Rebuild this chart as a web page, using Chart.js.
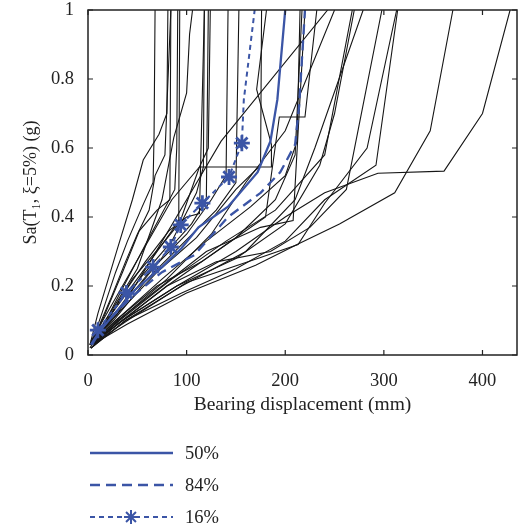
<!DOCTYPE html>
<html>
<head>
<meta charset="utf-8">
<script src="https://cdn.jsdelivr.net/npm/chart.js@4/dist/chart.umd.min.js"></script>
<style>
  html, body { margin: 0; padding: 0; background: #fff; overflow: hidden; }
  canvas { display: block; }
</style>
</head>
<body>
<canvas id="ida" width="519" height="531"></canvas>
<script>
// IDA curves, [bearing displacement (mm), Sa(T1) (g)]
const gmCurves = [
  [[2,0.03],[10,0.12],[30,0.31],[45,0.45],[56,0.565],[72,0.64],[80,0.70],[81,1]],
  [[3,0.03],[14,0.12],[28,0.24],[40,0.33],[55,0.43],[66,0.50],[67,0.64],[68,1]],
  [[3,0.03],[16,0.11],[35,0.24],[52,0.36],[70,0.42],[83,0.45],[84,1]],
  [[2,0.02],[18,0.10],[40,0.22],[60,0.33],[88,0.48],[90,0.60],[91,1]],
  [[3,0.03],[20,0.10],[45,0.22],[75,0.32],[92,0.38],[93,1]],
  [[2,0.03],[22,0.12],[50,0.25],[75,0.45],[87,0.63],[100,0.76],[103,0.93],[106,1]],
  [[3,0.03],[25,0.11],[55,0.23],[85,0.33],[110,0.47],[117,0.545],[118,1]],
  [[3,0.03],[24,0.12],[60,0.26],[95,0.40],[113,0.545],[122,0.60],[124,1]],
  [[2,0.03],[20,0.10],[52,0.20],[80,0.30],[105,0.38],[120,0.45],[122,1]],
  [[4,0.03],[28,0.12],[65,0.25],[100,0.35],[125,0.45],[140,0.52],[142,1]],
  [[3,0.03],[26,0.10],[60,0.22],[95,0.32],[130,0.42],[150,0.50],[153,1]],
  [[3,0.04],[25,0.15],[55,0.30],[85,0.45],[113,0.545],[186,0.545],[186,0.61],[171,0.77],[181,1]],
  [[2,0.03],[30,0.12],[70,0.24],[110,0.34],[150,0.48],[175,0.55],[176,1]],
  [[4,0.03],[32,0.11],[75,0.22],[120,0.33],[165,0.43],[200,0.52],[212,0.62],[215,1]],
  [[3,0.03],[28,0.10],[70,0.20],[115,0.27],[150,0.34],[190,0.45],[210,0.58],[217,1]],
  [[3,0.02],[30,0.09],[80,0.20],[130,0.30],[180,0.40],[194,0.69],[220,0.69],[232,1]],
  [[3,0.03],[30,0.12],[65,0.28],[100,0.45],[135,0.62],[243,1]],
  [[4,0.03],[35,0.11],[80,0.22],[125,0.35],[160,0.50],[200,0.65],[250,1]],
  [[3,0.02],[30,0.10],[75,0.20],[120,0.30],[175,0.37],[208,0.39],[220,1]],
  [[3,0.03],[32,0.10],[85,0.22],[140,0.33],[190,0.42],[240,0.58],[268,1]],
  [[4,0.03],[35,0.10],[90,0.20],[150,0.28],[200,0.38],[235,0.55],[250,0.70],[270,1]],
  [[3,0.02],[38,0.10],[95,0.20],[160,0.30],[210,0.45],[230,0.60],[279,1]],
  [[3,0.03],[35,0.10],[80,0.20],[130,0.27],[185,0.30],[225,0.37],[262,0.48],[298,1]],
  [[4,0.03],[40,0.10],[100,0.21],[172,0.28],[213,0.32],[240,0.44],[283,0.60],[313,1]],
  [[3,0.02],[38,0.10],[95,0.18],[150,0.25],[200,0.33],[240,0.45],[292,0.55],[314,1]],
  [[4,0.03],[40,0.09],[100,0.18],[170,0.26],[212,0.32],[255,0.38],[311,0.47],[347,0.65],[370,1]],
  [[3,0.03],[35,0.10],[90,0.20],[150,0.30],[200,0.40],[240,0.47],[294,0.527],[361,0.533],[400,0.70],[428,1]],
  [[2,0.03],[12,0.09],[24,0.17],[38,0.27],[50,0.35],[62,0.42],[68,0.52],[78,0.58],[84,1]],
  [[3,0.03],[15,0.08],[32,0.16],[58,0.27],[82,0.36],[100,0.40],[113,0.41],[118,1]]
];

const pct50 = [[3,0.03],[12,0.07],[30,0.13],[48,0.19],[75,0.255],[95,0.31],[112,0.37],[142,0.43],[172,0.53],[185,0.62],[192,0.74],[200,1]];
const pct84 = [[4,0.03],[17,0.09],[45,0.17],[75,0.24],[108,0.29],[142,0.40],[175,0.47],[195,0.53],[210,0.61],[214,0.72],[220,1]];
const pct16 = [[10,0.072],[39,0.18],[66,0.255],[84,0.313],[94,0.377],[116,0.44],[143,0.516],[156,0.614],[158,0.74],[169,1]];
const pct16Stars = 8; // first points carry the asterisk marker

const xTicks = [0, 100, 200, 300, 400];
const yTicks = [0, 0.2, 0.4, 0.6, 0.8, 1];
const legendLabels = ['50%', '84%', '16%'];

const BLUE = '#3b55a6';
const SERIF = "'Liberation Serif', 'DejaVu Serif', serif";

const toXY = arr => arr.map(p => ({ x: p[0], y: p[1] }));

const datasets = [
  { label: legendLabels[0], data: toXY(pct50), borderColor: BLUE, borderWidth: 2.3, pointRadius: 0, order: 0 },
  { label: legendLabels[1], data: toXY(pct84), borderColor: BLUE, borderWidth: 2.3, borderDash: [10, 6], pointRadius: 0, order: 0 },
  { label: legendLabels[2], data: toXY(pct16), borderColor: BLUE, borderWidth: 2, borderDash: [5, 4],
    pointStyle: 'star', pointRadius: pct16.map((p, i) => i < pct16Stars ? 8 : 0), pointBorderWidth: 2.8,
    pointBorderColor: BLUE, pointBackgroundColor: BLUE, order: 0 }
].concat(gmCurves.map((c, i) => ({
  label: 'GM' + (i + 1), data: toXY(c), borderColor: '#161616', borderWidth: 1.1, pointRadius: 0, order: 1
})));

const zeroPad = s => { s.paddingLeft = 0; s.paddingRight = 0; s.paddingTop = 0; s.paddingBottom = 0; };

// frame with inward ticks on all four sides
const framePlugin = {
  id: 'frame',
  afterDatasetsDraw(chart) {
    const { ctx, chartArea: a, scales: { x, y } } = chart;
    ctx.save();
    ctx.strokeStyle = '#222';
    ctx.lineWidth = 1.5;
    ctx.strokeRect(a.left, a.top, a.right - a.left, a.bottom - a.top);
    ctx.lineWidth = 1.2;
    ctx.beginPath();
    xTicks.forEach(v => {
      const px = x.getPixelForValue(v);
      ctx.moveTo(px, a.bottom); ctx.lineTo(px, a.bottom - 5);
      ctx.moveTo(px, a.top); ctx.lineTo(px, a.top + 5);
    });
    yTicks.forEach(v => {
      const py = y.getPixelForValue(v);
      ctx.moveTo(a.left, py); ctx.lineTo(a.left + 5, py);
      ctx.moveTo(a.right, py); ctx.lineTo(a.right - 5, py);
    });
    ctx.stroke();
    ctx.restore();
  },
  afterDraw(chart) {
    // legend under the axes, one entry per row
    const { ctx } = chart;
    const rows = [453, 485, 517];
    ctx.save();
    chart.data.datasets.slice(0, 3).forEach((ds, i) => {
      const yy = rows[i];
      ctx.strokeStyle = BLUE;
      ctx.lineWidth = ds.borderWidth;
      ctx.setLineDash(ds.borderDash || []);
      ctx.beginPath();
      ctx.moveTo(90, yy); ctx.lineTo(173, yy);
      ctx.stroke();
      ctx.setLineDash([]);
      if (ds.pointStyle === 'star') {
        Chart.helpers.drawPoint(ctx, { pointStyle: 'star', radius: 7, borderWidth: 2.6 }, 131, yy);
      }
      ctx.fillStyle = '#222';
      ctx.font = '18.5px ' + SERIF;
      ctx.textBaseline = 'middle';
      ctx.fillText(ds.label, 185, yy + 1);
    });
    ctx.restore();
  }
};

new Chart(document.getElementById('ida'), {
  type: 'scatter',
  data: { datasets },
  options: {
    responsive: false,
    animation: false,
    showLine: true,
    layout: { autoPadding: false, padding: { top: 10, right: 2, bottom: 110, left: 0 } },
    elements: { line: { tension: 0, fill: false } },
    plugins: { legend: { display: false }, tooltip: { enabled: false } },
    scales: {
      x: {
        type: 'linear', min: 0, max: 435,
        grid: { display: false }, border: { display: false },
        ticks: { stepSize: 100, includeBounds: false, color: '#222', font: { family: SERIF, size: 18.5 }, padding: 7, maxRotation: 0 },
        title: { display: true, text: 'Bearing displacement (mm)', color: '#222', font: { family: SERIF, size: 19.5 }, padding: { top: 0 } },
        afterFit: s => { s.height = 66; zeroPad(s); }
      },
      y: {
        type: 'linear', min: 0, max: 1,
        grid: { display: false }, border: { display: false },
        ticks: { stepSize: 0.2, color: '#222', font: { family: SERIF, size: 18.5 }, padding: 6,
          callback: v => String(Math.round(v * 10) / 10) },
        title: { display: true, text: 'Sa(T\u2081, \u03BE=5%) (g)', color: '#222', font: { family: SERIF, size: 18 }, padding: { top: 20, bottom: 0 } },
        afterFit: s => { s.width = 88; zeroPad(s); }
      }
    }
  },
  plugins: [framePlugin]
});
</script>
</body>
</html>
